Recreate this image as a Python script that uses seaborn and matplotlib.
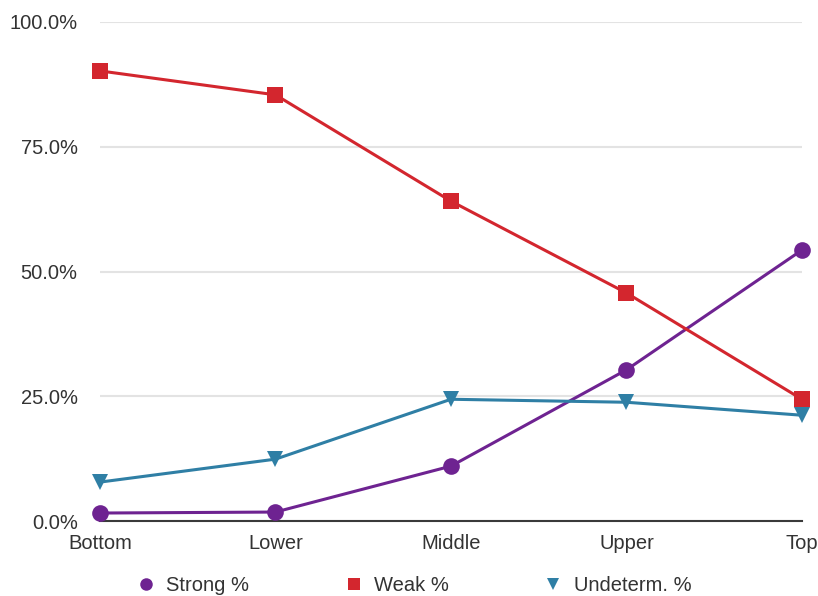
import matplotlib.pyplot as plt
import seaborn as sns
import pandas as pd
from matplotlib.lines import Line2D
from matplotlib.ticker import PercentFormatter

# Share of each group per tier
tiers = ['Bottom', 'Lower', 'Middle', 'Upper', 'Top']
strong = [1.6, 1.8, 11.0, 30.3, 54.3]
weak = [90.2, 85.4, 64.1, 45.7, 24.4]
undeterm = [7.8, 12.4, 24.4, 23.8, 21.2]

series = ['Strong %', 'Weak %', 'Undeterm. %']
colors = ['#6E2391', '#D3262E', '#2F7FA5']
markers = ['o', 's', 'v']
msizes = [12, 11, 12]

df = pd.DataFrame({'tier': tiers, 'Strong %': strong, 'Weak %': weak, 'Undeterm. %': undeterm})
long_df = df.melt(id_vars='tier', var_name='series', value_name='pct')

sns.set_style('white')
plt.rcParams['font.family'] = ['Liberation Sans', 'DejaVu Sans']

fig = plt.figure(figsize=(8.18, 5.96), dpi=100)
ax = fig.add_axes([0.1222, 0.1258, 0.8582, 0.8373])

for name, c, m, ms in zip(series, colors, markers, msizes):
    sns.lineplot(data=long_df[long_df['series'] == name], x='tier', y='pct', ax=ax,
                 color=c, marker=m, markersize=ms, markeredgewidth=0,
                 linewidth=2.2, legend=False, clip_on=False, zorder=3)

ax.set_xlim(0, len(tiers) - 1)
ax.set_ylim(0, 100)
ax.set_yticks([0, 25, 50, 75, 100])
ax.yaxis.set_major_formatter(PercentFormatter(decimals=1))
ax.grid(axis='y', color='#E3E3E3', linewidth=1.5)
ax.grid(axis='x', visible=False)
for s in ['left', 'right', 'top']:
    ax.spines[s].set_visible(False)
ax.spines['bottom'].set_color('#3A3A3A')
ax.spines['bottom'].set_linewidth(1.5)
ax.spines['bottom'].set_zorder(2)
ax.tick_params(axis='y', length=0, pad=16, labelsize=14.5, labelcolor='#333333')
ax.tick_params(axis='x', length=0, pad=9, labelsize=14.5, labelcolor='#333333')
ax.set_xlabel('')
ax.set_ylabel('')

handles = [Line2D([], [], linestyle='none', marker=m, color=c, markersize=9, markeredgewidth=0)
           for c, m in zip(colors, markers)]
fig.legend(handles, series, loc='center', bbox_to_anchor=(0.5055, 0.017), ncol=3,
           frameon=False, fontsize=14.5, handlelength=1.0, handletextpad=0.5,
           columnspacing=4.7, labelcolor='#333333')

fig.savefig('out.png', dpi=100)
